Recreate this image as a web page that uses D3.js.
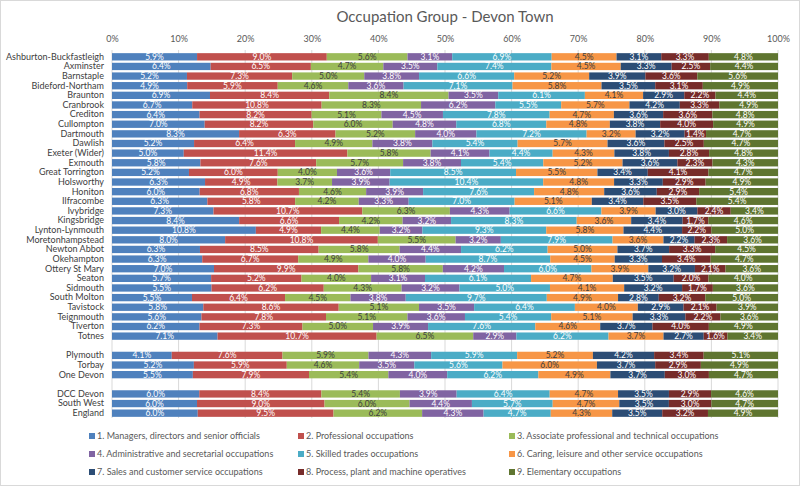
<!DOCTYPE html>
<html>
<head>
<meta charset="utf-8">
<script src="https://cdn.jsdelivr.net/npm/d3@7"></script>
<style>
  body { margin: 0; background: #fff; }
  svg { font-family: Lato, "Open Sans", sans-serif; }
</style>
</head>
<body>
<svg width="800" height="487"></svg>
<script>
const places = ["Ashburton-Buckfastleigh", "Axminster", "Barnstaple", "Bideford-Northam", "Braunton",
  "Cranbrook", "Crediton", "Cullompton", "Dartmouth", "Dawlish", "Exeter (Wider)", "Exmouth",
  "Great Torrington", "Holsworthy", "Honiton", "Ilfracombe", "Ivybridge", "Kingsbridge",
  "Lynton-Lynmouth", "Moretonhampstead", "Newton Abbot", "Okehampton", "Ottery St Mary", "Seaton",
  "Sidmouth", "South Molton", "Tavistock", "Teignmouth", "Tiverton", "Totnes",
  "Plymouth", "Torbay", "One Devon",
  "DCC Devon", "South West", "England"];

const occupations = ["1. Managers, directors and senior officials", "2. Professional occupations",
  "3. Associate professional and technical occupations", "4. Administrative and secretarial occupations",
  "5. Skilled trades occupations", "6. Caring, leisure and other service occupations",
  "7. Sales and customer service occupations", "8. Process, plant and machine operatives",
  "9. Elementary occupations"];

const colors = ["#4f81bd", "#c0504d", "#9bbb59", "#8064a2", "#4bacc6", "#f79646", "#2c4d75", "#772c2a", "#5f7530"];

const managers = [5.9, 6.4, 5.2, 4.9, 6.9, 6.7, 6.4, 7.0, 8.3, 5.2, 5.0, 5.8, 5.2, 6.3, 6.0, 6.3, 7.3, 8.4,
  10.8, 8.0, 6.3, 6.3, 7.0, 5.7, 5.5, 5.5, 5.8, 5.6, 6.2, 7.1, 4.1, 5.2, 5.5, 6.0, 6.0, 6.0];
const professional = [9.0, 6.5, 7.3, 5.9, 8.4, 10.8, 8.2, 8.2, 6.3, 6.4, 11.4, 7.6, 6.0, 4.9, 6.8, 5.8, 10.7, 6.6,
  4.9, 10.8, 8.5, 6.7, 9.9, 5.2, 6.2, 6.4, 8.6, 7.8, 7.3, 10.7, 7.6, 5.9, 7.9, 8.4, 9.0, 9.5];
const associate = [5.6, 4.7, 5.0, 4.6, 8.4, 8.3, 5.1, 6.0, 5.2, 4.9, 5.8, 5.7, 4.0, 3.7, 4.6, 4.2, 6.3, 4.2,
  4.4, 5.5, 5.8, 4.9, 5.8, 4.0, 4.3, 4.5, 5.1, 5.1, 5.0, 6.5, 5.9, 4.6, 5.4, 5.4, 6.0, 6.2];
const admin = [3.1, 3.5, 3.8, 3.6, 3.5, 6.2, 4.5, 4.8, 4.0, 3.8, 4.1, 3.8, 3.6, 3.9, 3.9, 3.3, 4.3, 3.2,
  3.2, 3.2, 4.4, 4.0, 4.2, 3.1, 3.2, 3.8, 3.5, 3.6, 3.9, 2.9, 4.3, 3.5, 4.0, 3.9, 4.4, 4.3];
const skilled = [6.9, 7.4, 6.6, 7.1, 6.1, 5.5, 7.8, 6.8, 7.2, 5.4, 4.4, 5.4, 8.5, 10.4, 7.6, 7.0, 6.6, 8.3,
  9.3, 7.9, 6.2, 8.7, 6.0, 6.1, 5.0, 9.7, 6.4, 5.4, 7.6, 6.2, 5.9, 5.6, 6.2, 6.4, 5.7, 4.7];
const caring = [4.5, 4.5, 5.2, 5.8, 4.1, 5.7, 4.7, 4.8, 3.2, 5.7, 4.3, 5.2, 5.5, 4.8, 4.8, 5.1, 3.9, 3.6,
  5.8, 3.6, 5.0, 4.5, 3.9, 4.7, 4.1, 4.9, 4.0, 5.1, 4.6, 3.7, 5.2, 6.0, 4.9, 4.7, 4.7, 4.3];
const sales = [3.1, 3.3, 3.9, 3.5, 2.9, 4.2, 3.6, 3.8, 3.2, 3.6, 3.8, 3.6, 3.4, 3.3, 3.6, 3.4, 3.0, 3.4,
  4.4, 2.2, 3.7, 3.3, 3.2, 3.5, 3.2, 2.8, 2.9, 3.3, 3.7, 2.7, 4.2, 3.7, 3.7, 3.5, 3.5, 3.5];
const process = [3.3, 2.5, 3.6, 3.1, 2.2, 3.3, 3.6, 4.0, 1.4, 2.5, 2.8, 2.3, 4.1, 2.9, 2.9, 3.5, 2.4, 1.7,
  2.2, 2.3, 3.3, 3.4, 2.1, 2.0, 1.7, 3.2, 2.1, 2.2, 4.0, 1.6, 3.4, 2.9, 3.0, 2.9, 3.0, 3.2];
const elementary = [4.8, 4.4, 5.6, 4.9, 4.4, 4.9, 4.8, 4.9, 4.7, 4.7, 4.8, 4.3, 4.7, 4.9, 5.4, 5.4, 3.4, 4.6,
  5.0, 3.6, 4.5, 4.7, 3.6, 4.0, 3.6, 5.0, 3.9, 3.6, 4.9, 3.4, 5.1, 4.9, 4.7, 4.6, 4.7, 4.9];

const xTicks = [0, 0.1, 0.2, 0.3, 0.4, 0.5, 0.6, 0.7, 0.8, 0.9, 1];

const series = [managers, professional, associate, admin, skilled, caring, sales, process, elementary];

// one row object per place, keyed by occupation index
const table = places.map((p, i) => {
  const row = {place: p};
  series.forEach((s, k) => row[k] = s[i]);
  return row;
});

// blank slots between the three groups
const yDomain = [...places.slice(0, 30), "_gap1", ...places.slice(30, 33), "_gap2", ...places.slice(33)];

const svg = d3.select("svg");
const plotLeft = 112, plotRight = 778;

svg.append("rect")
  .attr("x", 0.5).attr("y", 0.5)
  .attr("width", 799).attr("height", 485)
  .attr("fill", "#fff")
  .attr("stroke", "#d9d9d9");

svg.append("text")
  .attr("x", (plotLeft + plotRight) / 2)
  .attr("y", 22)
  .attr("text-anchor", "middle")
  .attr("font-size", "15px")
  .attr("fill", "#595959")
  .text("Occupation Group - Devon Town");

const x = d3.scaleLinear().domain([0, 1]).range([plotLeft, plotRight]);
const y = d3.scaleBand().domain(yDomain).range([52, 418]).paddingInner(0.24).paddingOuter(0.12);

// gridlines
svg.append("g")
  .selectAll("line")
  .data(xTicks)
  .join("line")
  .attr("x1", d => x(d)).attr("x2", d => x(d))
  .attr("y1", 50).attr("y2", 418)
  .attr("stroke", "#d9d9d9")
  .attr("stroke-width", 1);

// top axis
const xAxis = svg.append("g")
  .attr("transform", "translate(0, 45)")
  .call(d3.axisTop(x).tickValues(xTicks).tickFormat(d3.format(".0%")).tickSize(0));
xAxis.select(".domain").remove();
xAxis.selectAll("text")
  .attr("font-family", "Lato, sans-serif")
  .attr("font-size", "9px")
  .attr("fill", "#595959");

// left axis
const yAxis = svg.append("g")
  .attr("transform", `translate(${plotLeft - 8}, 0)`)
  .call(d3.axisLeft(y).tickValues(places).tickSize(0).tickPadding(0));
yAxis.select(".domain").remove();
yAxis.selectAll("text")
  .attr("font-family", "Lato, sans-serif")
  .attr("font-size", "9px")
  .attr("fill", "#404040");

const stack = d3.stack()
  .keys(d3.range(occupations.length))
  .offset(d3.stackOffsetExpand);
const layers = stack(table);

const layer = svg.append("g")
  .selectAll("g")
  .data(layers)
  .join("g")
  .attr("fill", d => colors[d.key]);

layer.selectAll("rect")
  .data(d => d)
  .join("rect")
  .attr("x", d => x(d[0]))
  .attr("y", d => y(d.data.place))
  .attr("width", d => x(d[1]) - x(d[0]))
  .attr("height", y.bandwidth());

// value labels (raw values, bars are normalised)
const darkText = [2, 5];
layer.each(function(l) {
  d3.select(this).selectAll("text")
    .data(l)
    .join("text")
    .attr("x", d => (x(d[0]) + x(d[1])) / 2)
    .attr("y", d => y(d.data.place) + y.bandwidth() / 2)
    .attr("dy", "0.35em")
    .attr("text-anchor", "middle")
    .attr("font-size", "8.5px")
    .attr("fill", darkText.includes(l.key) ? "#404040" : "#ffffff")
    .text(d => d.data[l.key].toFixed(1) + "%");
});

// legend, 3 x 3
const legendX = [89, 298, 509];
const legendY = [436, 454, 472];
const legend = svg.append("g")
  .selectAll("g")
  .data(occupations)
  .join("g")
  .attr("transform", (d, i) => `translate(${legendX[i % 3]}, ${legendY[Math.floor(i / 3)]})`);

legend.append("rect")
  .attr("x", 0).attr("y", -3)
  .attr("width", 6).attr("height", 6)
  .attr("fill", (d, i) => colors[i]);

legend.append("text")
  .attr("x", 8)
  .attr("dy", "0.35em")
  .attr("font-size", "9px")
  .attr("fill", "#595959")
  .text(d => d);
</script>
</body>
</html>
